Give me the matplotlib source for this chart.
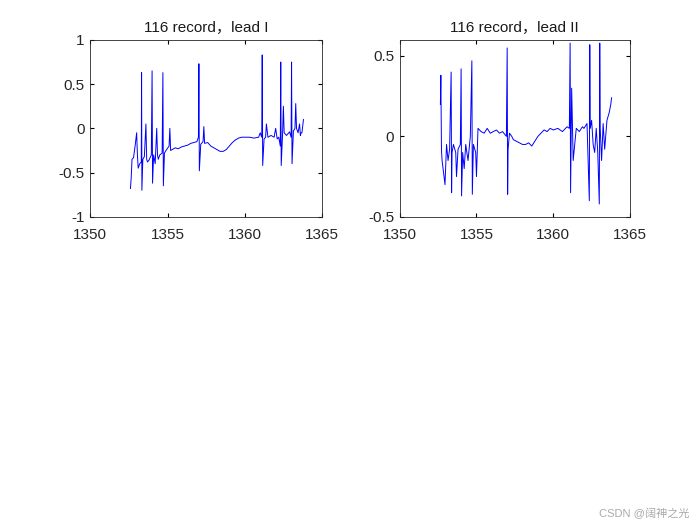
import matplotlib.pyplot as plt

plt.rcParams['font.family'] = ['Liberation Sans', 'Noto Sans CJK SC', 'DejaVu Sans']

# lead I : tiempo (s) y amplitud
t1 = [1352.60, 1352.65, 1352.70, 1352.80, 1352.90, 1353.00, 1353.05, 1353.10, 1353.20, 1353.30, 1353.32, 1353.34, 1353.40,
      1353.50, 1353.60, 1353.65, 1353.70, 1353.80, 1353.95, 1354.00, 1354.03, 1354.10, 1354.20, 1354.30, 1354.35, 1354.40,
      1354.50, 1354.65, 1354.70, 1354.73, 1354.80, 1354.90, 1355.10, 1355.15, 1355.20, 1355.30, 1355.50, 1355.70, 1355.90,
      1356.10, 1356.30, 1356.50, 1356.70, 1356.90, 1357.00, 1357.03, 1357.06, 1357.15, 1357.30, 1357.35, 1357.40, 1357.60,
      1357.80, 1358.00, 1358.20, 1358.40, 1358.60, 1358.80, 1359.00, 1359.20, 1359.40, 1359.60, 1359.80, 1360.00, 1360.30,
      1360.60, 1360.90, 1361.00, 1361.10, 1361.13, 1361.16, 1361.25, 1361.35, 1361.40, 1361.50, 1361.70, 1361.90, 1362.00,
      1362.10, 1362.20, 1362.30, 1362.33, 1362.36, 1362.45, 1362.50, 1362.55, 1362.70, 1362.90, 1363.00, 1363.03, 1363.06,
      1363.15, 1363.25, 1363.30, 1363.35, 1363.45, 1363.55, 1363.60, 1363.65, 1363.70, 1363.80]
v1 = [-0.68, -0.55, -0.35, -0.33, -0.20, -0.05, -0.30, -0.45, -0.40, -0.38, 0.63, -0.70, -0.35,
      -0.32, 0.05, -0.35, -0.38, -0.36, -0.30, 0.65, -0.62, -0.30, -0.40, 0.00, -0.30, -0.35,
      -0.30, -0.28, 0.63, -0.65, -0.28, -0.25, -0.20, 0.00, -0.25, -0.24, -0.22, -0.23, -0.21,
      -0.20, -0.19, -0.17, -0.16, -0.15, -0.10, 0.73, -0.48, -0.18, -0.15, 0.02, -0.17, -0.16,
      -0.20, -0.22, -0.24, -0.26, -0.26, -0.24, -0.20, -0.16, -0.13, -0.11, -0.10, -0.10, -0.10,
      -0.11, -0.10, -0.05, -0.10, 0.83, -0.42, -0.12, -0.10, 0.05, -0.10, -0.08, -0.10, 0.00,
      -0.12, -0.10, -0.20, 0.75, -0.42, -0.05, 0.25, -0.05, -0.08, -0.04, -0.10, 0.75, -0.40,
      -0.03, 0.00, 0.28, 0.00, -0.05, 0.05, -0.08, -0.05, -0.05, 0.10]

# lead II
t2 = [1352.65, 1352.68, 1352.72, 1352.76, 1352.85, 1352.95, 1353.05, 1353.15, 1353.25, 1353.35, 1353.38, 1353.41, 1353.50,
      1353.65, 1353.70, 1353.80, 1353.95, 1354.00, 1354.03, 1354.10, 1354.20, 1354.30, 1354.45, 1354.60, 1354.70, 1354.73,
      1354.80, 1354.95, 1355.00, 1355.10, 1355.30, 1355.50, 1355.70, 1355.90, 1356.10, 1356.30, 1356.50, 1356.70, 1356.95,
      1357.00, 1357.03, 1357.06, 1357.15, 1357.30, 1357.40, 1357.60, 1357.80, 1358.00, 1358.20, 1358.40, 1358.60, 1358.80,
      1359.00, 1359.20, 1359.40, 1359.60, 1359.80, 1360.00, 1360.30, 1360.60, 1360.90, 1361.05, 1361.10, 1361.13, 1361.20,
      1361.30, 1361.50, 1361.70, 1361.90, 1362.00, 1362.20, 1362.35, 1362.38, 1362.41, 1362.50, 1362.60, 1362.70, 1362.80,
      1362.90, 1363.00, 1363.03, 1363.06, 1363.15, 1363.25, 1363.35, 1363.50, 1363.65, 1363.75, 1363.80]
v2 = [0.20, 0.38, -0.08, -0.15, -0.22, -0.30, -0.05, -0.15, -0.08, 0.40, -0.35, -0.10, -0.05,
      -0.10, -0.25, -0.08, -0.05, 0.42, -0.37, -0.10, -0.20, -0.05, -0.15, 0.00, 0.47, -0.36,
      -0.05, -0.10, -0.25, 0.05, 0.03, 0.02, 0.05, 0.02, 0.03, 0.04, 0.02, 0.03, 0.00, 0.55,
      -0.36, -0.08, 0.02, 0.00, -0.02, -0.03, -0.04, -0.05, -0.05, -0.04, -0.06, -0.03, 0.00,
      0.02, 0.04, 0.03, 0.05, 0.04, 0.05, 0.03, 0.06, 0.05, 0.58, -0.35, 0.30, -0.15, 0.05,
      0.03, 0.06, 0.05, 0.08, -0.40, 0.57, 0.05, 0.10, -0.05, -0.10, 0.05, -0.10, -0.42, 0.58,
      0.05, -0.15, 0.08, -0.08, 0.10, 0.15, 0.20, 0.24]

fig = plt.figure(figsize=(7, 5.25), dpi=100)
ax1 = fig.add_axes([0.129, 0.587, 0.331, 0.337])
ax2 = fig.add_axes([0.571, 0.587, 0.329, 0.337])

for ax, t, v, titulo, lim, ticks in [
        (ax1, t1, v1, '116 record，lead I', (-1, 1), [-1, -0.5, 0, 0.5, 1]),
        (ax2, t2, v2, '116 record，lead II', (-0.5, 0.6), [-0.5, 0, 0.5])]:
    ax.plot(t, v, color='b', linewidth=0.7)
    ax.set_xlim(1350, 1365)
    ax.set_ylim(*lim)
    ax.set_xticks([1350, 1355, 1360, 1365])
    ax.set_yticks(ticks)
    ax.set_yticklabels([f'{y:g}' for y in ticks])
    ax.set_title(titulo, fontsize=11, color='#1a1a1a')
    ax.tick_params(direction='in', labelsize=11, top=True, right=True, length=3,
                   labelcolor='#262626', pad=4)
    ax.tick_params(axis='x', pad=8)
    for s in ax.spines.values():
        s.set_linewidth(0.6)
        s.set_color('#262626')

fig.text(0.985, 0.015, 'CSDN @阔神之光', ha='right', fontsize=8, color='#aaaaaa')
fig.savefig('out.png')
